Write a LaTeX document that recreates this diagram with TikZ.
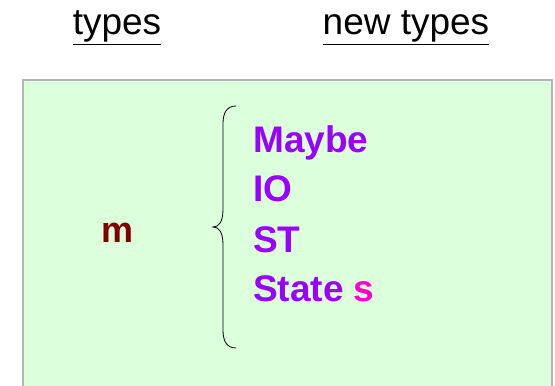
\documentclass[tikz,border=0pt]{standalone}
\usepackage{fontspec}
\setmainfont{Liberation Sans}
\usetikzlibrary{decorations.pathreplacing}
\definecolor{bggreen}{RGB}{220,255,220}
\definecolor{boxgray}{RGB}{180,180,180}
\definecolor{typepurple}{RGB}{153,0,255}
\definecolor{darkred}{RGB}{128,0,0}
\definecolor{pinkm}{RGB}{255,0,204}
\tikzset{
  header/.style={font=\fontsize{37}{40}\selectfont, text=black, inner sep=0pt, anchor=base},
  item/.style={font=\fontsize{37}{40}\selectfont\bfseries, text=typepurple, inner sep=0pt, anchor=base west},
}
\begin{document}
\begin{tikzpicture}[x=1pt,y=1pt]
\useasboundingbox (0,0) rectangle (555,386);
\fill[bggreen] (23,0) rectangle (552,306);
\draw[boxgray, line width=1.5pt] (23,-2) -- (23,306) -- (552,306) -- (552,-2);
\node[header] (types) at (117,351) {\underline{types}};
\node[header] (newtypes) at (406,351) {\underline{new types}};
\node[font=\fontsize{36}{40}\selectfont\bfseries, text=darkred, inner sep=0pt, anchor=base] (m) at (118,143) {m};
\node[item] (maybe) at (253,233) {Maybe};
\node[item] (io) at (253,184) {IO};
\node[item] (st) at (253,133) {ST};
\node[item] (state) at (253,84) {State \textcolor{pinkm}{s}};
\coordinate (bt) at (236,280);
\coordinate (bb) at (236,38);
\draw[black, line width=0.8pt] (bt) .. controls (226,280) and (223,272) .. (223,262)
  -- (223,177) .. controls (223,164) and (219,159) .. (213,159)
  .. controls (219,159) and (223,154) .. (223,141)
  -- (223,56) .. controls (223,46) and (226,38) .. (bb);
\end{tikzpicture}
\end{document}
